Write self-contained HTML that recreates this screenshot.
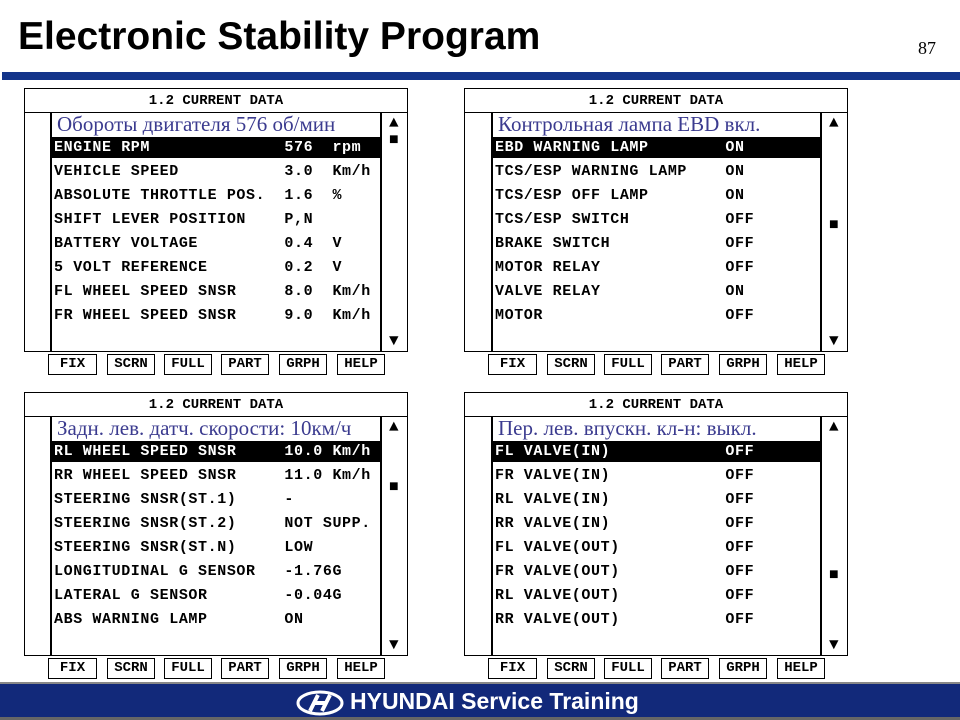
<!DOCTYPE html>
<html><head><meta charset="utf-8"><style>
*{margin:0;padding:0;box-sizing:border-box}
body{width:960px;height:720px;background:#fff;position:relative;overflow:hidden;font-family:"Liberation Mono",monospace}
.a{position:absolute}
.title{left:18px;top:15px;font:bold 39px "Liberation Sans",sans-serif;letter-spacing:0px;color:#000;white-space:nowrap}
.pg{left:918px;top:38px;font:18px "Liberation Serif",serif}
.bar{left:2px;top:72px;width:958px;height:8px;background:#13348a}
.foot{left:0;top:682px;width:960px;height:38px;background:#12297a;border-top:2px solid #888;border-bottom:3px solid #666}
.foot span{position:absolute;left:350px;top:4px;color:#fff;font:bold 23px "Liberation Sans",sans-serif;white-space:nowrap}
.p{position:absolute;width:384px;height:264px;border:1px solid #000}
.p .t{position:absolute;left:0;top:0;width:100%;height:24px;border-bottom:1px solid #000;text-align:center;font:bold 14px "Liberation Mono",monospace;line-height:24px}
.p .in{position:absolute;left:25px;top:23px;width:332px;height:240px;border-left:2px solid #000;border-right:2px solid #000}
.p .ru{position:absolute;left:5px;top:0px;font:21px "Liberation Serif",serif;color:#3b3b8f;white-space:nowrap}
.r{position:absolute;left:0;width:328px;height:21px;font:bold 15px "Liberation Mono",monospace;letter-spacing:0.6px;line-height:21px;white-space:pre;padding-left:2px;overflow:hidden}
.r.h{background:#000;color:#fff}
.sc{position:absolute;left:364px;font-size:16px;line-height:16px}
.b{position:absolute;height:21px;border:1px solid #000;font:bold 14px "Liberation Mono",monospace;line-height:19px;text-align:center}
</style></head><body>
<div class="a title">Electronic Stability Program</div>
<div class="a pg">87</div>
<div class="a bar"></div>

<div class="p" style="left:24px;top:88px"><div class="t">1.2 CURRENT DATA</div>
<div class="in"><div class="ru">Обороты двигателя 576 об/мин</div>
<div class="r h" style="top:25px">ENGINE RPM              576  rpm</div>
<div class="r" style="top:49px">VEHICLE SPEED           3.0  Km/h</div>
<div class="r" style="top:73px">ABSOLUTE THROTTLE POS.  1.6  %</div>
<div class="r" style="top:97px">SHIFT LEVER POSITION    P,N</div>
<div class="r" style="top:121px">BATTERY VOLTAGE         0.4  V</div>
<div class="r" style="top:145px">5 VOLT REFERENCE        0.2  V</div>
<div class="r" style="top:169px">FL WHEEL SPEED SNSR     8.0  Km/h</div>
<div class="r" style="top:193px">FR WHEEL SPEED SNSR     9.0  Km/h</div>
</div>
<div class="sc" style="top:26px">▲</div><div class="sc" style="top:43px">■</div><div class="sc" style="top:244px">▼</div>
</div>

<div class="p" style="left:464px;top:88px"><div class="t">1.2 CURRENT DATA</div>
<div class="in" style="left:26px;width:331px"><div class="ru">Контрольная лампа EBD вкл.</div>
<div class="r h" style="top:25px">EBD WARNING LAMP        ON</div>
<div class="r" style="top:49px">TCS/ESP WARNING LAMP    ON</div>
<div class="r" style="top:73px">TCS/ESP OFF LAMP        ON</div>
<div class="r" style="top:97px">TCS/ESP SWITCH          OFF</div>
<div class="r" style="top:121px">BRAKE SWITCH            OFF</div>
<div class="r" style="top:145px">MOTOR RELAY             OFF</div>
<div class="r" style="top:169px">VALVE RELAY             ON</div>
<div class="r" style="top:193px">MOTOR                   OFF</div>
</div>
<div class="sc" style="top:26px">▲</div><div class="sc" style="top:128px">■</div><div class="sc" style="top:244px">▼</div>
</div>

<div class="p" style="left:24px;top:392px"><div class="t">1.2 CURRENT DATA</div>
<div class="in"><div class="ru">Задн. лев. датч. скорости: 10км/ч</div>
<div class="r h" style="top:25px">RL WHEEL SPEED SNSR     10.0 Km/h</div>
<div class="r" style="top:49px">RR WHEEL SPEED SNSR     11.0 Km/h</div>
<div class="r" style="top:73px">STEERING SNSR(ST.1)     -</div>
<div class="r" style="top:97px">STEERING SNSR(ST.2)     NOT SUPP.</div>
<div class="r" style="top:121px">STEERING SNSR(ST.N)     LOW</div>
<div class="r" style="top:145px">LONGITUDINAL G SENSOR   -1.76G</div>
<div class="r" style="top:169px">LATERAL G SENSOR        -0.04G</div>
<div class="r" style="top:193px">ABS WARNING LAMP        ON</div>
</div>
<div class="sc" style="top:26px">▲</div><div class="sc" style="top:86px">■</div><div class="sc" style="top:244px">▼</div>
</div>

<div class="p" style="left:464px;top:392px"><div class="t">1.2 CURRENT DATA</div>
<div class="in" style="left:26px;width:331px"><div class="ru">Пер. лев. впускн. кл-н: выкл.</div>
<div class="r h" style="top:25px">FL VALVE(IN)            OFF</div>
<div class="r" style="top:49px">FR VALVE(IN)            OFF</div>
<div class="r" style="top:73px">RL VALVE(IN)            OFF</div>
<div class="r" style="top:97px">RR VALVE(IN)            OFF</div>
<div class="r" style="top:121px">FL VALVE(OUT)           OFF</div>
<div class="r" style="top:145px">FR VALVE(OUT)           OFF</div>
<div class="r" style="top:169px">RL VALVE(OUT)           OFF</div>
<div class="r" style="top:193px">RR VALVE(OUT)           OFF</div>
</div>
<div class="sc" style="top:26px">▲</div><div class="sc" style="top:174px">■</div><div class="sc" style="top:244px">▼</div>
</div>

<div class="b" style="left:48px;top:354px;width:49px">FIX</div>
<div class="b" style="left:107px;top:354px;width:48px">SCRN</div>
<div class="b" style="left:164px;top:354px;width:48px">FULL</div>
<div class="b" style="left:221px;top:354px;width:48px">PART</div>
<div class="b" style="left:279px;top:354px;width:48px">GRPH</div>
<div class="b" style="left:337px;top:354px;width:48px">HELP</div>

<div class="b" style="left:488px;top:354px;width:49px">FIX</div>
<div class="b" style="left:547px;top:354px;width:48px">SCRN</div>
<div class="b" style="left:604px;top:354px;width:48px">FULL</div>
<div class="b" style="left:661px;top:354px;width:48px">PART</div>
<div class="b" style="left:719px;top:354px;width:48px">GRPH</div>
<div class="b" style="left:777px;top:354px;width:48px">HELP</div>

<div class="b" style="left:48px;top:658px;width:49px">FIX</div>
<div class="b" style="left:107px;top:658px;width:48px">SCRN</div>
<div class="b" style="left:164px;top:658px;width:48px">FULL</div>
<div class="b" style="left:221px;top:658px;width:48px">PART</div>
<div class="b" style="left:279px;top:658px;width:48px">GRPH</div>
<div class="b" style="left:337px;top:658px;width:48px">HELP</div>

<div class="b" style="left:488px;top:658px;width:49px">FIX</div>
<div class="b" style="left:547px;top:658px;width:48px">SCRN</div>
<div class="b" style="left:604px;top:658px;width:48px">FULL</div>
<div class="b" style="left:661px;top:658px;width:48px">PART</div>
<div class="b" style="left:719px;top:658px;width:48px">GRPH</div>
<div class="b" style="left:777px;top:658px;width:48px">HELP</div>

<div class="a foot">
<svg class="a" style="left:296px;top:6px" width="48" height="26" viewBox="0 0 48 26"><ellipse cx="24" cy="13" rx="22" ry="11" fill="none" stroke="#fff" stroke-width="3"/><path d="M14 21 L22 5 M26 21 L34 5 M18 13 L30 13" stroke="#fff" stroke-width="4"/></svg>
<span>HYUNDAI Service Training</span></div>
</body></html>
